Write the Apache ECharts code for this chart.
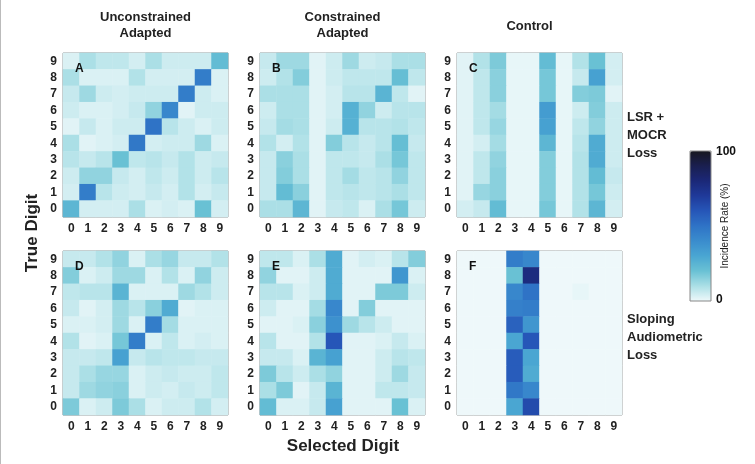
<!DOCTYPE html>
<html>
<head>
<meta charset="utf-8">
<script src="https://cdn.jsdelivr.net/npm/echarts@6/dist/echarts.min.js"></script>
<style>
  html, body { margin: 0; padding: 0; background: #fff; }
  #chart1 { width: 755px; height: 464px; }
</style>
</head>
<body>
<div id="chart1"></div>
<script>
var digits = ['0', '1', '2', '3', '4', '5', '6', '7', '8', '9'];

// each panel: rows from true digit 9 (top) down to 0, columns selected digit 0..9 (incidence %)
var panelA = [
    [3, 10, 7, 7, 4, 10, 5, 5, 5, 22],
    [10, 3, 3, 3, 9, 4, 4, 4, 46, 3],
    [6, 12, 5, 4, 5, 5, 5, 46, 5, 3],
    [5, 3, 3, 4, 6, 14, 42, 2, 5, 5],
    [2, 6, 3, 5, 5, 50, 8, 5, 3, 5],
    [10, 2, 3, 4, 48, 4, 5, 5, 12, 3],
    [8, 6, 8, 20, 7, 8, 6, 9, 5, 6],
    [5, 14, 14, 6, 4, 7, 5, 9, 5, 8],
    [4, 46, 8, 5, 4, 6, 4, 9, 4, 6],
    [24, 4, 4, 4, 10, 3, 4, 3, 20, 4]
];
var panelB = [
    [6, 12, 12, 2, 5, 12, 5, 6, 10, 10],
    [5, 9, 16, 2, 5, 7, 7, 7, 21, 7],
    [10, 10, 10, 2, 4, 8, 8, 25, 7, 2],
    [5, 10, 10, 2, 4, 26, 14, 5, 8, 8],
    [6, 11, 10, 2, 5, 26, 8, 8, 9, 7],
    [9, 4, 9, 2, 16, 8, 6, 8, 21, 6],
    [6, 15, 10, 2, 7, 7, 6, 10, 18, 7],
    [6, 16, 10, 2, 7, 11, 7, 8, 14, 7],
    [6, 22, 15, 2, 7, 8, 7, 8, 10, 7],
    [10, 10, 24, 2, 6, 7, 3, 10, 18, 5]
];
var panelC = [
    [2, 9, 17, 1, 1, 22, 1, 9, 20, 4],
    [2, 7, 15, 1, 1, 18, 1, 6, 32, 4],
    [2, 7, 15, 1, 1, 18, 1, 16, 17, 2],
    [2, 7, 11, 1, 1, 34, 1, 5, 16, 5],
    [2, 7, 13, 1, 1, 32, 1, 7, 14, 5],
    [2, 4, 11, 1, 1, 24, 1, 8, 28, 5],
    [2, 7, 14, 1, 1, 16, 1, 9, 28, 5],
    [2, 7, 15, 1, 1, 16, 1, 9, 22, 6],
    [2, 13, 15, 1, 1, 16, 1, 9, 18, 5],
    [4, 6, 22, 1, 1, 18, 1, 9, 24, 4]
];
var panelD = [
    [6, 6, 9, 14, 3, 10, 13, 6, 6, 9],
    [16, 3, 5, 12, 12, 3, 9, 3, 14, 5],
    [7, 8, 8, 25, 3, 3, 3, 12, 9, 5],
    [6, 2, 4, 12, 8, 15, 28, 2, 3, 3],
    [3, 3, 4, 12, 3, 46, 11, 3, 3, 3],
    [9, 2, 3, 18, 46, 3, 7, 3, 4, 3],
    [6, 6, 7, 32, 6, 8, 7, 7, 6, 6],
    [6, 10, 13, 13, 3, 5, 6, 5, 5, 7],
    [6, 12, 14, 15, 3, 5, 4, 6, 5, 7],
    [17, 3, 5, 17, 10, 3, 5, 5, 9, 4]
];
var panelE = [
    [7, 7, 3, 10, 28, 2, 4, 3, 8, 16],
    [14, 2, 2, 5, 28, 2, 2, 2, 36, 3],
    [8, 8, 3, 5, 28, 2, 2, 17, 17, 5],
    [5, 2, 2, 11, 42, 2, 16, 2, 2, 2],
    [2, 2, 3, 15, 38, 12, 8, 5, 2, 2],
    [8, 2, 2, 9, 60, 2, 2, 3, 6, 3],
    [6, 6, 3, 25, 32, 2, 2, 5, 8, 7],
    [17, 8, 5, 10, 14, 2, 2, 5, 12, 6],
    [10, 17, 2, 6, 25, 2, 2, 7, 7, 6],
    [22, 3, 3, 6, 32, 2, 2, 2, 20, 3]
];
var panelF = [
    [0, 0, 0, 46, 42, 0, 0, 0, 0, 0],
    [0, 0, 0, 20, 78, 0, 0, 0, 0, 0],
    [0, 0, 0, 42, 50, 0, 0, 1, 0, 0],
    [0, 0, 0, 45, 46, 0, 0, 0, 0, 0],
    [0, 0, 0, 56, 36, 0, 0, 0, 0, 0],
    [0, 0, 0, 30, 60, 0, 0, 0, 0, 0],
    [0, 0, 0, 58, 30, 0, 0, 0, 0, 0],
    [0, 0, 0, 58, 28, 0, 0, 0, 0, 0],
    [0, 0, 0, 48, 42, 0, 0, 0, 0, 0],
    [0, 0, 0, 30, 64, 0, 0, 0, 0, 0]
];
var panelLetters = ['A', 'B', 'C', 'D', 'E', 'F'];
var colTitles = ['Unconstrained\nAdapted', 'Constrained\nAdapted', 'Control'];
var rowTitles = ['LSR +\nMOCR\nLoss', 'Sloping\nAudiometric\nLoss'];
var scaleColors = ['#eef8fa', '#abdfe6', '#69c1d4', '#4aa6d2', '#3a8ccd', '#2f73c6', '#2656b8', '#1f3a9a', '#1b2878', '#1a1f50', '#17171f'];

function toCells(m) {
    var out = [];
    for (var r = 0; r < m.length; r++) {
        for (var c = 0; c < m[r].length; c++) {
            out.push([c, 9 - r, m[r][c]]);
        }
    }
    return out;
}

var panels = [panelA, panelB, panelC, panelD, panelE, panelF];
var lefts = [63, 260, 457];
var tops = [53, 251];
var cw = 165, ch = 164;

var grids = [], xAxes = [], yAxes = [], series = [], graphics = [];
for (var i = 0; i < 6; i++) {
    var gx = lefts[i % 3], gy = tops[Math.floor(i / 3)];
    grids.push({ left: gx, top: gy, width: cw, height: ch, show: true, borderColor: '#8a8a8a', borderWidth: 1, backgroundColor: 'transparent' });
    xAxes.push({
        type: 'category', gridIndex: i, data: digits,
        axisLine: { show: false },
        axisTick: { show: true, inside: true, length: 3, alignWithLabel: true, lineStyle: { color: '#777' } },
        axisLabel: { color: '#222', fontWeight: 'bold', fontSize: 12, fontFamily: 'Liberation Sans', margin: 6 },
        splitLine: { show: false }
    });
    yAxes.push({
        type: 'category', gridIndex: i, data: digits,
        axisLine: { show: false },
        axisTick: { show: true, inside: true, length: 3, alignWithLabel: true, lineStyle: { color: '#777' } },
        axisLabel: { color: '#222', fontWeight: 'bold', fontSize: 12, fontFamily: 'Liberation Sans', margin: 6 },
        splitLine: { show: false }
    });
    series.push({
        type: 'heatmap', xAxisIndex: i, yAxisIndex: i,
        data: toCells(panels[i]),
        itemStyle: { borderWidth: 0 },
        emphasis: { disabled: true }
    });
    graphics.push({
        type: 'text', left: gx + 12, top: gy + 10, z: 10,
        style: { text: panelLetters[i], font: 'bold 12px Liberation Sans', fill: '#111' }
    });
}
for (var j = 0; j < 3; j++) {
    graphics.push({
        type: 'text', x: lefts[j] + cw / 2 + (j == 2 ? -10 : 0), y: j == 2 ? 18 : 9, z: 10,
        style: { text: colTitles[j], font: 'bold 13px Liberation Sans', fill: '#222', align: 'center', lineHeight: 16 }
    });
}
graphics.push({ type: 'text', left: 627, top: 108, style: { text: rowTitles[0], font: 'bold 13px Liberation Sans', fill: '#222', lineHeight: 18 } });
graphics.push({ type: 'text', left: 627, top: 310, style: { text: rowTitles[1], font: 'bold 13px Liberation Sans', fill: '#222', lineHeight: 18 } });
graphics.push({ type: 'text', x: 32, y: 233, rotation: Math.PI / 2, style: { text: 'True Digit', font: 'bold 17px Liberation Sans', fill: '#222', align: 'center', verticalAlign: 'middle' } });
graphics.push({ type: 'text', x: 343, y: 446, style: { text: 'Selected Digit', font: 'bold 17px Liberation Sans', fill: '#222', align: 'center', verticalAlign: 'middle' } });
graphics.push({ type: 'text', x: 716, y: 152, style: { text: '100', font: 'bold 12px Liberation Sans', fill: '#111', verticalAlign: 'middle' } });
graphics.push({ type: 'text', x: 716, y: 300, style: { text: '0', font: 'bold 12px Liberation Sans', fill: '#111', verticalAlign: 'middle' } });
graphics.push({ type: 'text', x: 725, y: 226, rotation: Math.PI / 2, style: { text: 'Incidence Rate (%)', font: '10px Liberation Sans', fill: '#222', align: 'center', verticalAlign: 'middle' } });
graphics.push({ type: 'rect', shape: { x: 690, y: 151, width: 21, height: 150 }, z: 20, style: { fill: 'none', stroke: '#888', lineWidth: 1 } });
graphics.push({ type: 'line', shape: { x1: 0.5, y1: 0, x2: 0.5, y2: 464 }, style: { stroke: '#bbb', lineWidth: 1 } });

var myChart1 = echarts.init(document.getElementById('chart1'));
var option = {
    animation: false,
    grid: grids,
    xAxis: xAxes,
    yAxis: yAxes,
    visualMap: {
        type: 'continuous',
        min: 0,
        max: 100,
        calculable: false,
        orient: 'vertical',
        left: 690,
        top: 151,
        itemWidth: 21,
        itemHeight: 150,
        padding: 0,
        text: null,
        showLabel: false,
        inRange: { color: scaleColors }
    },
    series: series,
    graphic: graphics
};
myChart1.setOption(option);
</script>
</body>
</html>
